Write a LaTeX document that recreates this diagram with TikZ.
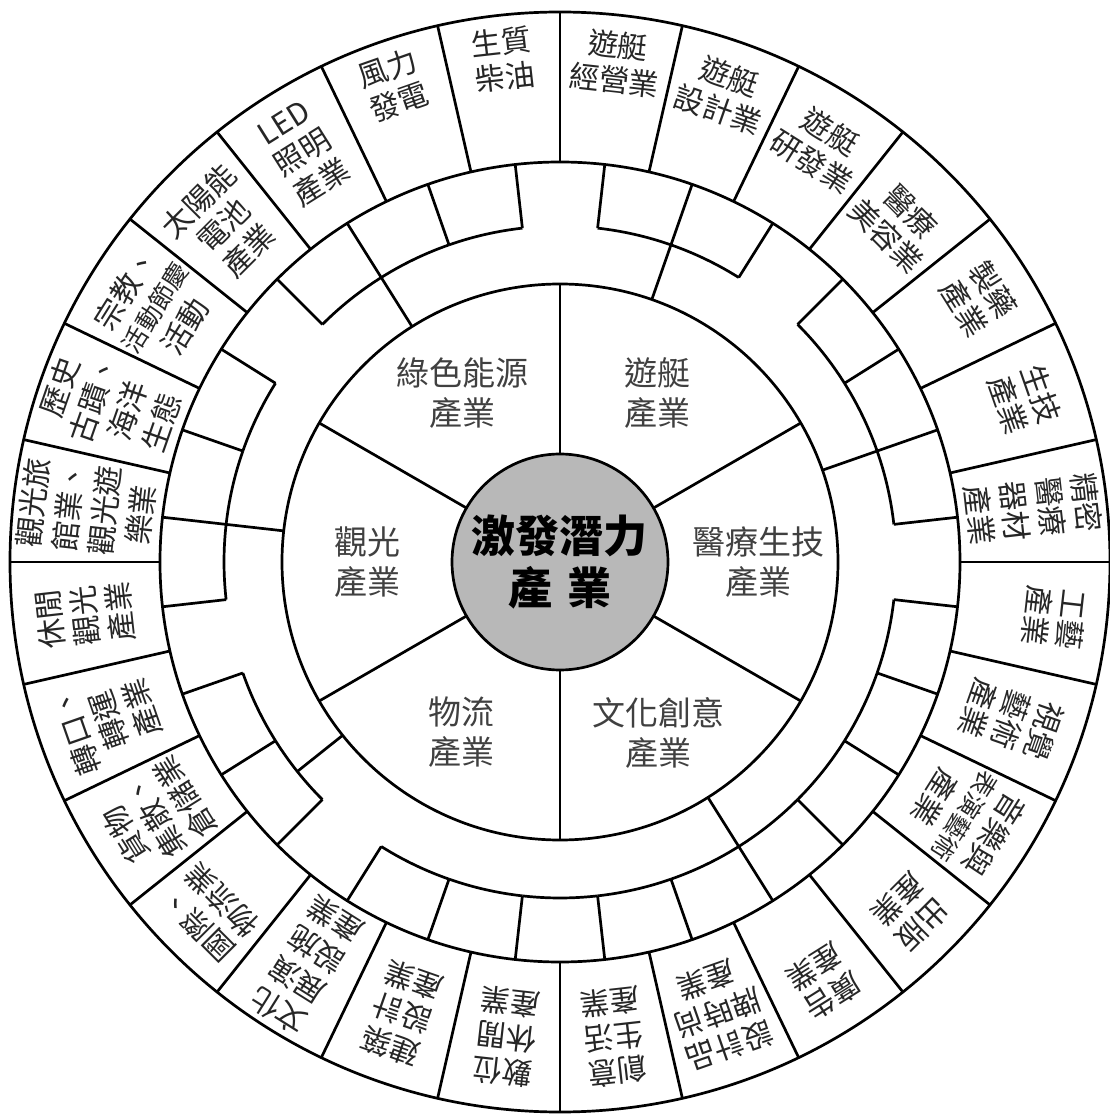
\documentclass[tikz,border=0pt]{standalone}
\usepackage{fontspec}
\newfontfamily\cjk{Noto Sans CJK TC}
\begin{document}
\begin{tikzpicture}[x=1pt,y=1pt, line width=2.7pt, line join=round,
  lbl/.style={font=\cjk\fontsize{30}{35}\selectfont, text=black!85, inner sep=0pt},
  sec/.style={font=\cjk\fontsize{33}{40}\selectfont, align=center, text=black!75, inner sep=0pt},
  ttl/.style={font=\cjk\bfseries\fontsize{44}{52}\selectfont, align=center, text=black, inner sep=0pt}]
\useasboundingbox (-560,-554) rectangle (550,562);
\def\RA{108}\def\RB{278}\def\RC{336}\def\RD{400}\def\RE{550}
\def\dd{12.857143}
\newcommand\sq[1]{{\fontsize{25}{35}\selectfont #1}}
% circles
\draw (0,0) circle[radius=\RE];
\draw (0,0) circle[radius=\RD];
\draw (0,0) circle[radius=\RB];
% sector dividers
\foreach \a in {30,90,150,210,270,330} \draw (\a:\RA) -- (\a:\RB);
% label cell dividers
\foreach \k in {0,...,27} \draw ({\k*\dd}:\RD) -- ({\k*\dd}:\RE);
% ring B slot dividers
\foreach \k in {0,...,27} \draw ({(\k+0.5)*\dd}:\RC) -- ({(\k+0.5)*\dd}:\RD);
% ring B inner arcs (openings at slots 0,4,7,11,15,18)
\foreach \j in {1,2,3,5,6,8,9,10,12,13,14,16,17,19,20,21,22,23,24,25,26,27}
  \draw ({(\j-0.5)*\dd}:\RC) arc[start angle={(\j-0.5)*\dd}, end angle={(\j+0.5)*\dd}, radius=\RC];
% ring C radials
\foreach \a in {19.2857,70.7143,122.1429,173.5714,218.5714,302.1429} \draw (\a:\RB) -- (\a:\RC);
% centre
\fill[black!28] (0,0) circle[radius=\RA];
\draw (0,0) circle[radius=\RA];
\node[ttl] (centre) at (0,0) {激發潛力\\產\,\,業};
% sector labels
\node[sec] (s1) at (120:195) {綠色能源\\產業};
\node[sec] (s2) at (60:195) {遊艇\\產業};
\node[sec] (s3) at (0:198) {醫療生技\\產業};
\node[sec] (s4) at (-60:197) {文化創意\\產業};
\node[sec] (s5) at (-120:197) {物流\\產業};
\node[sec] (s6) at (180:192) {觀光\\產業};
% outer labels: cell index / radius of first line / line pitch / lines
\foreach \k/\r/\p/\t in {
 0/530/36/{精密,醫療,器材,產業},
 1/510/35/{生技,產業},
 2/512/35/{製藥,產業},
 3/496/35/{醫療,美容業},
 4/508/35/{遊艇,研發業},
 5/514/35/{遊艇,設計業},
 6/520/35/{遊艇,經營業},
 7/523/35/{生質,柴油},
 8/523/35/{風力,發電},
 9/519/35/{LED,照明,產業},
 10/511/35/{太陽能,電池,產業},
 11/513/35/{宗教、,\sq{活動節慶},活動},
 12/530/36/{歷史,古蹟、,海洋,生態},
 13/530/36/{觀光旅,館業、,觀光遊,樂業},
 14/513/35/{休閒,觀光,產業},
 15/513/35/{轉口、,轉運,產業},
 16/513/35/{貨物,集散、,倉儲業},
 17/513/35/{國際、,物流業},
 18/530/36/{文化,展演,設施,產業},
 19/513/35/{建築,設計,產業},
 20/513/35/{數位,休閒,產業},
 21/513/35/{創意,生活,產業},
 22/513/35/{設計品,牌時尚,產業},
 23/513/35/{廣告,產業},
 24/513/35/{出版,產業},
 25/513/35/{音樂與,\sq{表演藝術},產業},
 26/513/35/{視覺,藝術,產業},
 27/515/35/{工藝,產業}}
 \foreach \ln [count=\i] in \t
   \node[lbl, rotate={(\k+0.5)*\dd-90}] (c\k-\i) at ({(\k+0.5)*\dd}:{\r-(\i-1)*\p}) {\ln};
\end{tikzpicture}
\end{document}
